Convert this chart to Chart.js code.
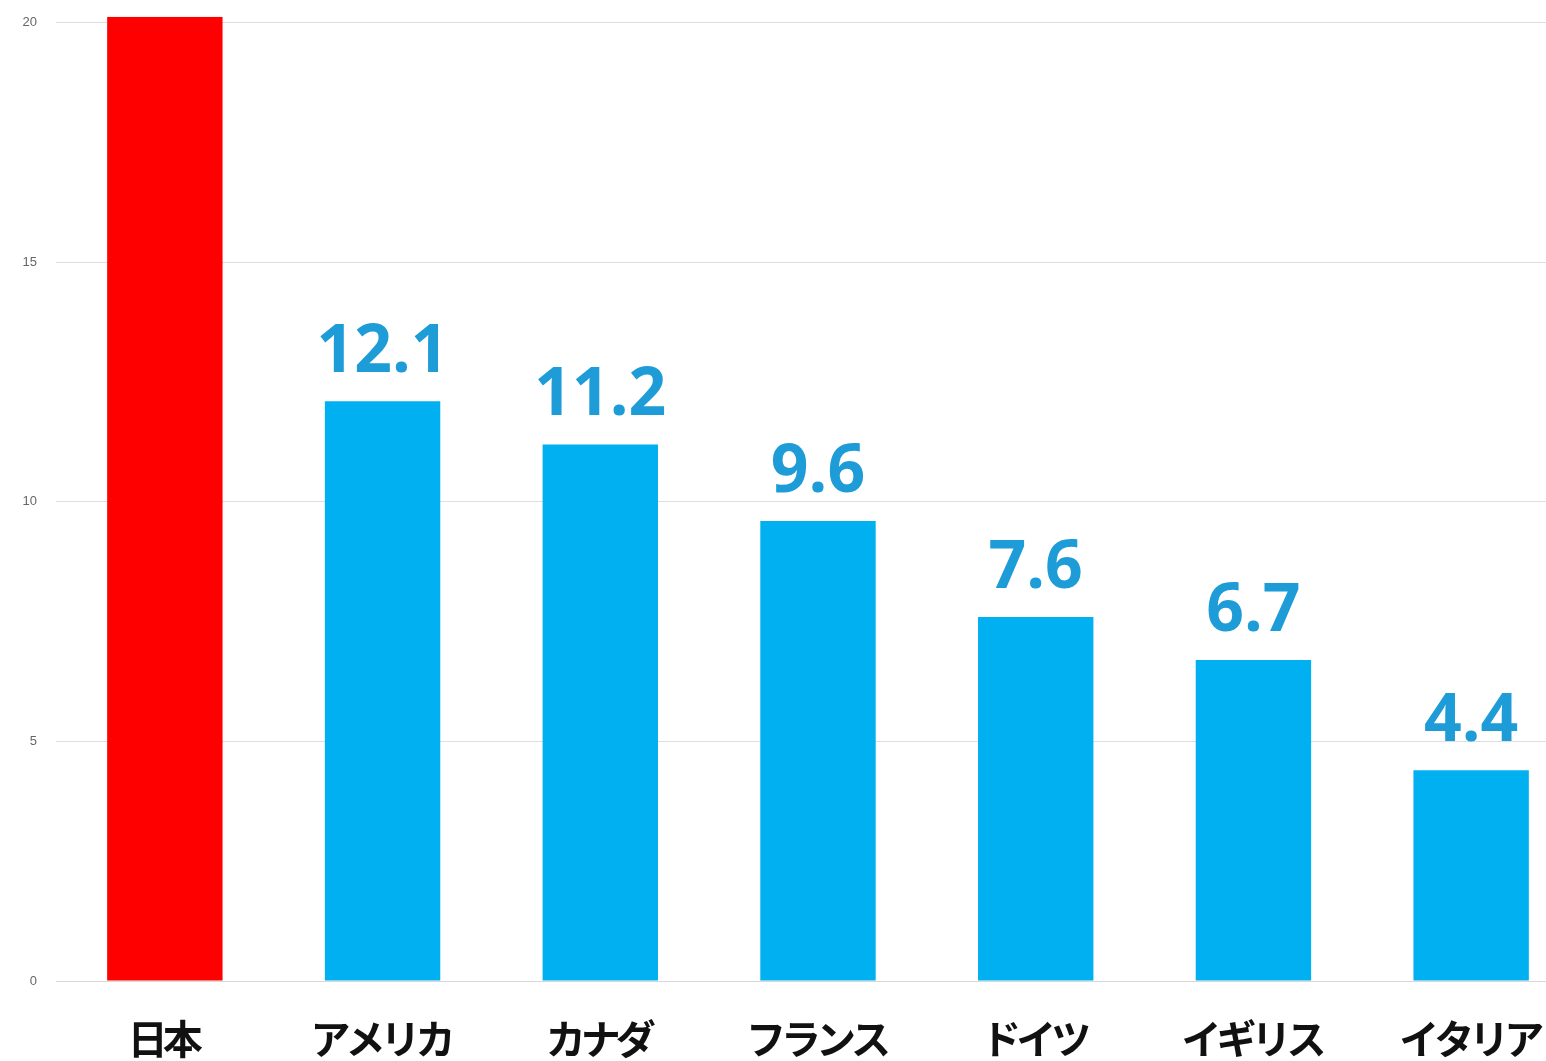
<!DOCTYPE html>
<html lang="ja">
<head>
<meta charset="utf-8">
<title>国別比較</title>
<script src="https://cdn.jsdelivr.net/npm/chart.js@4.4.1/dist/chart.umd.min.js"></script>
<style>
    html, body { margin: 0; padding: 0; background: #fff; overflow: hidden; }
    #wrap { position: relative; width: 1600px; height: 1071px; margin-top: -10px; }
</style>
</head>
<body>
<div id="wrap"><canvas id="chart"></canvas></div>
<script>
// データ
const countries = ['日本', 'アメリカ', 'カナダ', 'フランス', 'ドイツ', 'イギリス', 'イタリア'];
const values = [20.125, 12.1, 11.2, 9.6, 7.6, 6.7, 4.4];
const barColors = ['#ff0000', '#00b0f0', '#00b0f0', '#00b0f0', '#00b0f0', '#00b0f0', '#00b0f0'];
const yTicks = [0, 5, 10, 15, 20];

// 棒の上の数値ラベルと横軸ラベル
const labelPlugin = {
    id: 'labelPlugin',
    afterDatasetsDraw(chart) {
        const ctx = chart.ctx;
        const meta = chart.getDatasetMeta(0);
        ctx.save();
        ctx.fillStyle = '#1e9cd7';
        ctx.font = 'bold 66px "Open Sans", sans-serif';
        ctx.textAlign = 'center';
        ctx.textBaseline = 'alphabetic';
        meta.data.forEach((bar, i) => {
            if (bar.y - 29 < 60) return;
            ctx.fillText(values[i].toFixed(1), bar.x, bar.y - 29);
        });
        ctx.restore();

        const xScale = chart.scales.x;
        ctx.save();
        ctx.fillStyle = '#111';
        ctx.font = 'bold 40px "Noto Sans CJK JP", sans-serif';
        ctx.textAlign = 'center';
        ctx.textBaseline = 'middle';
        ctx.letterSpacing = '-5px';
        countries.forEach((c, i) => {
            ctx.fillText(c, xScale.getPixelForTick(i) - 2, xScale.top + 58);
        });
        ctx.restore();
    }
};

new Chart(document.getElementById('chart'), {
    type: 'bar',
    data: {
        labels: countries,
        datasets: [{
            data: values,
            backgroundColor: barColors,
            borderWidth: 0,
            categoryPercentage: 1,
            barPercentage: 0.53
        }]
    },
    options: {
        responsive: true,
        maintainAspectRatio: false,
        animation: false,
        layout: { padding: { top: 6, right: 20, left: 0, bottom: 0 } },
        plugins: {
            legend: { display: false },
            tooltip: { enabled: false }
        },
        scales: {
            x: {
                grid: { display: false, drawTicks: false },
                border: { display: true, color: '#d9d9d9', width: 1 },
                ticks: { display: false },
                afterFit(scale) { scale.height = 80; }
            },
            y: {
                min: 0,
                max: 20.125,
                afterBuildTicks(scale) {
                    scale.ticks = yTicks.map(v => ({ value: v }));
                },
                ticks: {
                    includeBounds: false,
                    padding: 19,
                    color: '#666',
                    font: { family: '"Liberation Sans", sans-serif', size: 13 }
                },
                grid: { color: '#dedede', lineWidth: 1, drawTicks: false },
                border: { display: false },
                afterFit(scale) { scale.width = 56; }
            }
        }
    },
    plugins: [labelPlugin]
});
</script>
</body>
</html>
